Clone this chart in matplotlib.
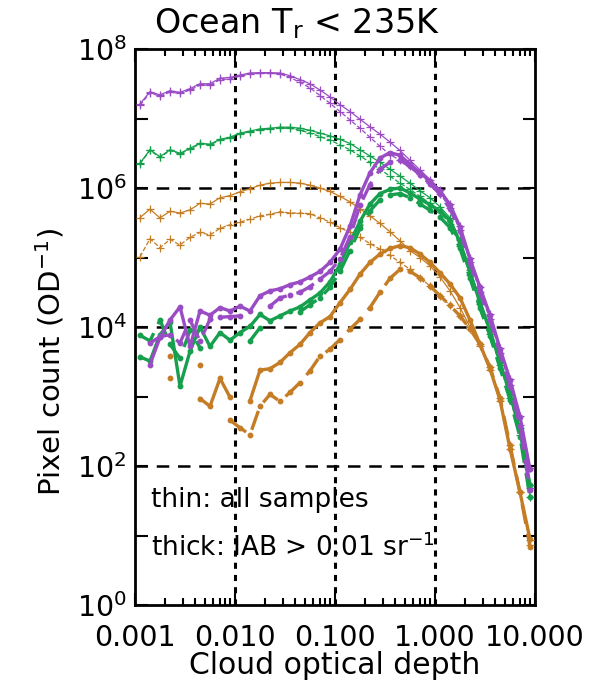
import numpy as np
import matplotlib
matplotlib.use("Agg")
import matplotlib.pyplot as plt
from matplotlib.ticker import FixedLocator, NullFormatter

nan = np.nan

# log10 of cloud optical depth bin centres
log_tau = [-2.95, -2.85, -2.75, -2.65, -2.55, -2.45, -2.35, -2.25, -2.15, -2.05,
           -1.95, -1.85, -1.75, -1.65, -1.55, -1.45, -1.35, -1.25, -1.15, -1.05,
           -0.95, -0.85, -0.75, -0.65, -0.55, -0.45, -0.35, -0.25, -0.15, -0.05,
           0.05, 0.15, 0.25, 0.35, 0.45, 0.55, 0.65, 0.75, 0.85, 0.95]

# log10 pixel count per OD — thin: all samples (solid / dashed)
purple_thin_a = [7.21, 7.385, 7.34, 7.40, 7.376, 7.43, 7.50, 7.50, 7.58, 7.59,
                 7.625, 7.655, 7.66, 7.66, 7.655, 7.615, 7.56, 7.50, 7.41, 7.31,
                 7.20, 7.10, 6.99, 6.88, 6.775, 6.66, 6.54, 6.40, 6.26, 6.12,
                 5.97, 5.77, 5.45, 5.00, 4.58, 4.18, 3.70, 3.25, 2.72, 1.97]
purple_thin_b = [7.19, 7.37, 7.32, 7.38, 7.36, 7.41, 7.48, 7.48, 7.56, 7.57,
                 7.61, 7.64, 7.65, 7.65, 7.64, 7.59, 7.52, 7.44, 7.33, 7.22,
                 7.10, 6.98, 6.86, 6.73, 6.60, 6.48, 6.40, 6.32, 6.20, 6.07,
                 5.92, 5.71, 5.39, 4.93, 4.51, 4.11, 3.63, 3.16, 2.59, 1.68]
green_thin_a = [6.357, 6.55, 6.45, 6.55, 6.50, 6.57, 6.645, 6.63, 6.70, 6.73,
                6.79, 6.82, 6.85, 6.86, 6.875, 6.875, 6.86, 6.83, 6.79, 6.75,
                6.70, 6.64, 6.55, 6.46, 6.37, 6.27, 6.17, 6.07, 5.96, 5.86,
                5.73, 5.57, 5.25, 4.82, 4.40, 3.97, 3.52, 3.06, 2.55, 1.73]
green_thin_b = [6.35, 6.54, 6.44, 6.54, 6.49, 6.56, 6.635, 6.62, 6.69, 6.72,
                6.78, 6.81, 6.84, 6.85, 6.86, 6.86, 6.83, 6.79, 6.74, 6.69,
                6.62, 6.55, 6.46, 6.37, 6.27, 6.17, 6.07, 5.98, 5.88, 5.78,
                5.65, 5.48, 5.17, 4.75, 4.33, 3.90, 3.45, 2.98, 2.45, 1.55]
orange_thin_a = [5.575, 5.695, 5.57, 5.665, 5.64, 5.685, 5.78, 5.77, 5.86, 5.89,
                 5.945, 5.99, 6.04, 6.07, 6.08, 6.08, 6.07, 6.04, 6.00, 5.95,
                 5.88, 5.80, 5.70, 5.60, 5.49, 5.37, 5.24, 5.10, 5.00, 4.88,
                 4.72, 4.52, 4.28, 4.00, 3.72, 3.38, 2.93, 2.25, 1.62, 0.94]
orange_thin_b = [5.01, 5.27, 5.14, 5.26, 5.18, 5.29, 5.36, 5.325, 5.42, 5.47,
                 5.51, 5.55, 5.60, 5.62, 5.66, 5.64, 5.64, 5.63, 5.57, 5.51,
                 5.43, 5.36, 5.29, 5.20, 5.12, 5.03, 4.93, 4.83, 4.71, 4.59,
                 4.45, 4.31, 4.16, 3.97, 3.75, 3.42, 2.98, 2.30, 1.62, 0.86]

# thick: IAB > 0.01 sr^-1 (solid / dashed)
purple_thick_a = [nan, 3.46, 3.85, 4.10, 4.29, 3.72, 4.23, 4.17, 4.28, 4.23,
                  4.30, 4.23, 4.45, 4.52, 4.55, 4.61, 4.65, 4.72, 4.80, 4.93,
                  5.12, 5.45, 5.90, 6.22, 6.43, 6.51, 6.47, 6.34, 6.22, 6.10,
                  5.96, 5.76, 5.44, 4.98, 4.57, 4.17, 3.69, 3.24, 2.71, 1.95]
purple_thick_b = [nan, 3.77, 3.86, 3.89, 3.77, 4.10, 3.80, 4.11, 4.14, 4.15,
                  4.16, nan, nan, 4.30, 4.42, 4.46, 4.50, 4.58, 4.69, 4.80,
                  4.98, 5.30, 5.75, 6.05, 6.27, 6.37, 6.40, 6.31, 6.19, 6.06,
                  5.91, 5.70, 5.38, 4.92, 4.50, 4.10, 3.62, 3.15, 2.58, 1.66]
green_thick_a = [3.57, 3.51, 3.89, 4.07, 3.15, 3.65, 4.00, 3.72, 3.92, 3.81,
                 3.92, 4.01, 4.18, 4.09, 4.16, 4.23, 4.29, 4.39, 4.49, 4.65,
                 4.90, 5.22, 5.52, 5.77, 5.92, 5.98, 6.00, 5.93, 5.84, 5.76,
                 5.67, 5.53, 5.22, 4.79, 4.35, 3.95, 3.49, 3.04, 2.50, 1.73]
green_thick_b = [3.88, 3.80, 4.10, 3.75, 3.55, 3.95, 3.70, nan, nan, nan,
                 nan, 3.80, 3.99, nan, nan, nan, 4.22, 4.32, 4.42, 4.57,
                 4.80, 5.10, 5.42, 5.67, 5.83, 5.90, 5.92, 5.86, 5.77, 5.68,
                 5.58, 5.43, 5.13, 4.70, 4.27, 3.87, 3.41, 2.95, 2.42, 1.55]
orange_thick_a = [nan, nan, nan, 3.58, nan, nan, 2.97, 2.86, 3.26, 2.99,
                  nan, 2.94, 3.38, 3.40, 3.49, 3.63, 3.75, 3.92, 4.06, 4.15,
                  4.35, 4.54, 4.76, 4.93, 5.05, 5.13, 5.17, 5.14, 5.05, 4.93,
                  4.78, 4.62, 4.42, 4.10, 3.75, 3.40, 2.95, 2.25, 1.62, 0.95]
orange_thick_b = [nan, nan, nan, 3.27, nan, nan, 3.45, nan, nan, 2.66,
                  2.55, 2.45, 2.86, 3.03, 2.93, 3.06, 3.20, 3.37, 3.58, 3.68,
                  3.82, 3.97, 4.11, 4.28, 4.50, 4.70, 4.83, 4.80, 4.71, 4.59,
                  4.45, 4.31, 4.16, 3.97, 3.75, 3.42, 2.98, 2.30, 1.62, 0.84]

x_ticks = [0.001, 0.01, 0.1, 1.0, 10.0]
x_ticklabels = ["0.001", "0.010", "0.100", "1.000", "10.000"]
y_ticks = [1, 1e2, 1e4, 1e6, 1e8]
y_ticklabels = [r"$10^0$", r"$10^2$", r"$10^4$", r"$10^6$", r"$10^8$"]

PURPLE = "#9a4cc4"
GREEN = "#16a04e"
ORANGE = "#c47c25"

plt.rcParams["font.family"] = ["DejaVu Sans"]
plt.rcParams["mathtext.fontset"] = "dejavusans"

fig = plt.figure(figsize=(5.97, 6.86), dpi=100)
ax = fig.add_axes([135 / 597, 1 - 605 / 686, 400 / 597, 556 / 686])

tau = 10 ** np.array(log_tau)

def pc(v):
    return 10 ** np.array(v, dtype=float)

thin = [(purple_thin_a, PURPLE, "-"), (purple_thin_b, PURPLE, "--"),
        (green_thin_a, GREEN, "-"), (green_thin_b, GREEN, "--"),
        (orange_thin_a, ORANGE, "-"), (orange_thin_b, ORANGE, "--")]
for vals, c, ls in thin:
    ax.plot(tau, pc(vals), color=c, ls=ls, lw=0.9, marker="+", ms=6, mew=0.9,
            zorder=3)

thick = [(orange_thick_a, ORANGE, "-"), (orange_thick_b, ORANGE, "--"),
         (green_thick_a, GREEN, "-"), (green_thick_b, GREEN, "--"),
         (purple_thick_a, PURPLE, "-"), (purple_thick_b, PURPLE, "--")]
for vals, c, ls in thick:
    ax.plot(tau, pc(vals), color=c, ls=ls, lw=2.4, marker="o", ms=3.2,
            dashes=(6, 3) if ls == "--" else (None, None), zorder=4)

# reference grid lines
for yv in [1e2, 1e4, 1e6]:
    ax.axhline(yv, color="black", lw=1.8, dashes=(5, 3.5), zorder=2)
for xv in [0.01, 0.1, 1.0]:
    ax.axvline(xv, color="black", lw=2.2, dashes=(2, 2), zorder=2)

ax.set_xscale("log")
ax.set_yscale("log")
ax.set_xlim(0.001, 10)
ax.set_ylim(1, 1e8)

ax.xaxis.set_major_locator(FixedLocator(x_ticks))
ax.set_xticklabels(x_ticklabels)
ax.xaxis.set_minor_locator(FixedLocator(
    [m * d for d in [0.001, 0.01, 0.1, 1.0] for m in range(2, 10)]))
ax.xaxis.set_minor_formatter(NullFormatter())
ax.yaxis.set_major_locator(FixedLocator(y_ticks))
ax.set_yticklabels(y_ticklabels)
ax.yaxis.set_minor_locator(FixedLocator([10, 1e3, 1e5, 1e7]))
ax.yaxis.set_minor_formatter(NullFormatter())

ax.tick_params(which="both", direction="in", top=True, right=True,
               width=1.5, colors="black")
ax.tick_params(axis="x", which="major", length=9, labelsize=20.5, pad=14)
ax.tick_params(axis="x", which="minor", length=5)
ax.tick_params(axis="y", which="major", length=9, labelsize=20.5, pad=6)
ax.tick_params(axis="y", which="minor", length=9)
for s in ax.spines.values():
    s.set_linewidth(2.0)

fig.text(297 / 597, 1 - 24 / 686, r"Ocean T$_\mathregular{r}$ < 235K",
         ha="center", va="center", fontsize=24)
fig.text(335 / 597, 1 - 666 / 686, "Cloud optical depth", ha="center",
         va="center", fontsize=21.5)
fig.text(50 / 597, 1 - 362 / 686, r"Pixel count (OD$^{-1}$)", ha="center",
         va="center", rotation=90, fontsize=21)

fig.text(151 / 597, 1 - 500 / 686, "thin: all samples", ha="left",
         va="center", fontsize=19)
fig.text(151 / 597, 1 - 548 / 686, r"thick: IAB > 0.01 sr$^{-1}$", ha="left",
         va="center", fontsize=19)

fig.savefig("out.png", dpi=100)
